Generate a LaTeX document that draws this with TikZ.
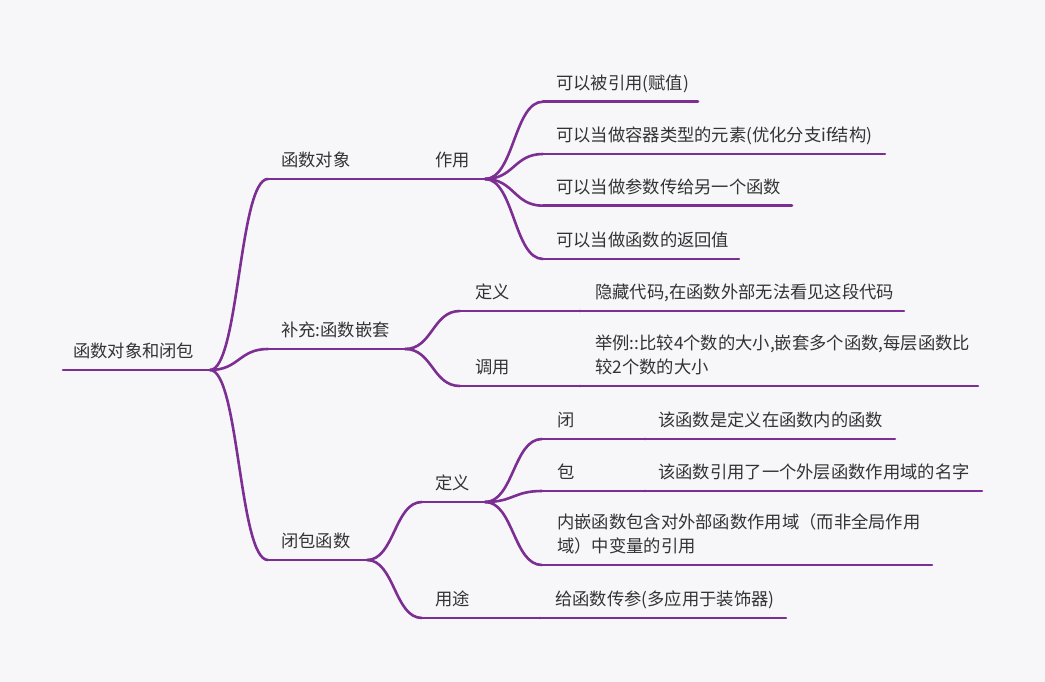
\documentclass[tikz,border=0pt]{standalone}
\usepackage{fontspec}
\setmainfont{Noto Sans CJK SC}
\usetikzlibrary{calc}
\definecolor{bg}{RGB}{247,247,250}
\definecolor{br}{RGB}{124,46,146}
\definecolor{tx}{RGB}{51,51,51}
\tikzset{
  conn/.style={draw=br, line width=2.6pt, line cap=round},
  uline/.style={draw=br, line width=2.6pt, line cap=round},
  lbl/.style={anchor=base west, inner sep=0pt, text=tx, font=\fontsize{17.3}{24}\selectfont, align=left},
}
\newcommand\curv[2]{\draw[conn] let \p1=(#1), \p2=(#2) in (#1) .. controls ({(\x1+\x2)/2},\y1) and ({(\x1+\x2)/2},\y2) .. (#2);}
% name, start x, end x, line y, text x, text baseline y (last line), text
\newcommand\topic[7]{%
  \coordinate (#1s) at (#2,#4);
  \coordinate (#1e) at (#3,#4);
  \draw[uline] (#1s) -- (#1e);
  \node[lbl] (#1) at (#5,#6) {#7};
}
\begin{document}
\begin{tikzpicture}[x=1pt,y=-1pt]
\fill[bg] (0,0) rectangle (1045,682);
\path[use as bounding box] (0,0) rectangle (1045,682);

\topic{root}{63}{210}{370}{73}{357.5}{函数对象和闭包}

\topic{A}{268}{367}{179}{281}{166.5}{函数对象}
\topic{Ai}{422}{485}{179}{435}{166.5}{作用}
\topic{Aa}{543}{698}{101.7}{556}{89.2}{可以被引用(赋值)}
\topic{Ab}{543}{885}{154}{556}{141.5}{可以当做容器类型的元素(优化分支if结构)}
\topic{Ac}{543}{792}{205.7}{556}{193.2}{可以当做参数传给另一个函数}
\topic{Ad}{543}{739}{259}{556}{246.5}{可以当做函数的返回值}

\topic{B}{268}{405}{349}{281}{336.5}{补充:函数嵌套}
\topic{Bi}{460}{580}{311}{475}{298.5}{定义}
\topic{Bia}{580}{904}{311}{595}{298.5}{隐藏代码,在函数外部无法看见这段代码}
\topic{Bj}{460}{580}{386}{475}{373.5}{调用}
\topic{Bja}{580}{978}{386}{595}{373.5}{举例::比较4个数的大小,嵌套多个函数,每层函数比\\较2个数的大小}

\topic{C}{268}{367}{560}{281}{547.5}{闭包函数}
\topic{Ci}{422}{485}{502}{435}{489.5}{定义}
\topic{Cia}{542}{645}{439}{557}{426.5}{闭}
\topic{Ciaa}{645}{895}{439}{658}{426.5}{该函数是定义在函数内的函数}
\topic{Cib}{542}{645}{491}{557}{478.5}{包}
\topic{Ciba}{645}{982}{491}{658}{478.5}{该函数引用了一个外层函数作用域的名字}
\topic{Cic}{542}{932}{565}{557}{552.5}{内嵌函数包含对外部函数作用域（而非全局作用\\域）中变量的引用}
\topic{Cj}{422}{540}{618}{435}{605.5}{用途}
\topic{Cja}{540}{786}{618}{555}{605.5}{给函数传参(多应用于装饰器)}

\curv{roote}{As}
\curv{roote}{Bs}
\curv{roote}{Cs}
\curv{Ae}{Ais}
\curv{Aie}{Aas}
\curv{Aie}{Abs}
\curv{Aie}{Acs}
\curv{Aie}{Ads}
\curv{Be}{Bis}
\curv{Be}{Bjs}
\curv{Bie}{Bias}
\curv{Bje}{Bjas}
\curv{Ce}{Cis}
\curv{Ce}{Cjs}
\curv{Cie}{Cias}
\curv{Cie}{Cibs}
\curv{Cie}{Cics}
\curv{Ciae}{Ciaas}
\curv{Cibe}{Cibas}
\curv{Cje}{Cjas}
\end{tikzpicture}
\end{document}
